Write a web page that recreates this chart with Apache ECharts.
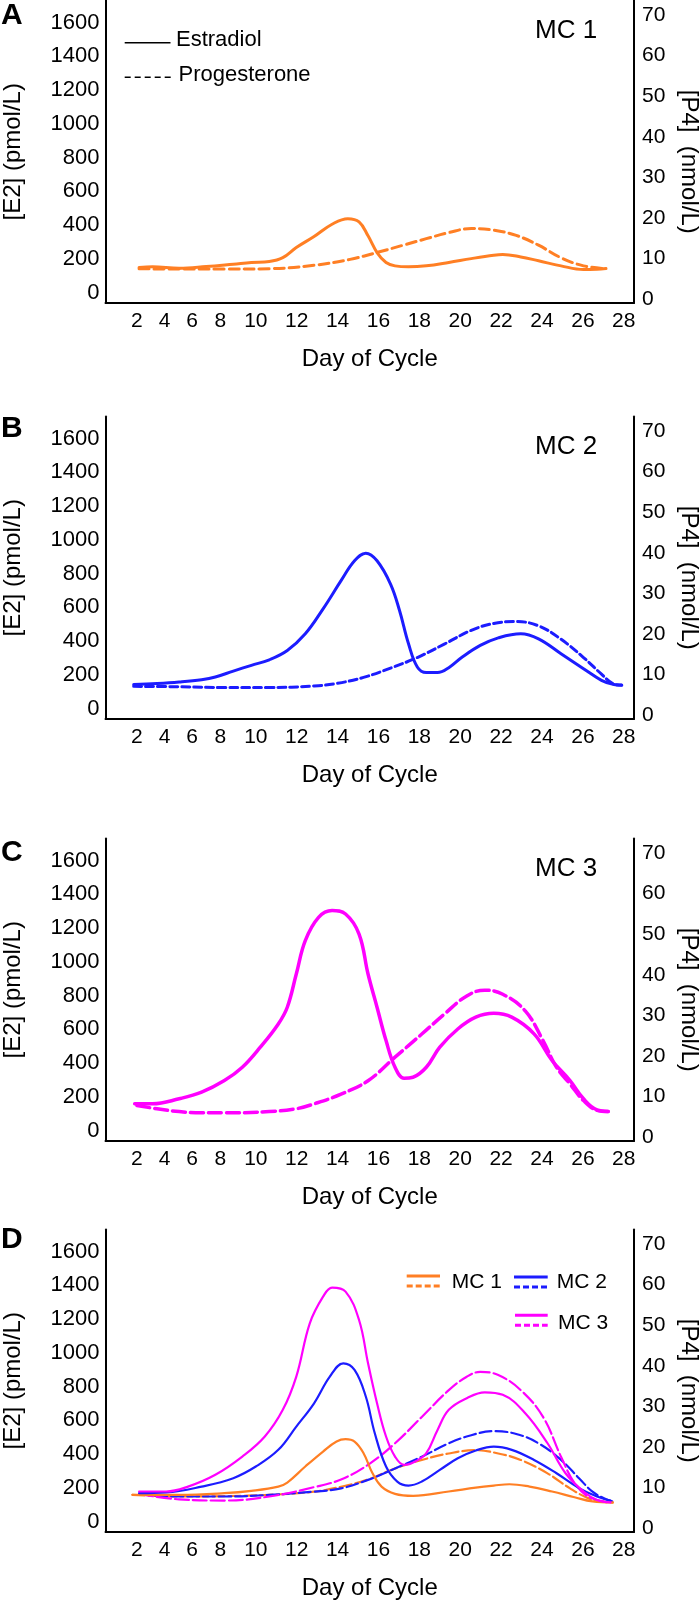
<!DOCTYPE html>
<html>
<head>
<meta charset="utf-8">
<script src="https://cdn.jsdelivr.net/npm/echarts@6/dist/echarts.min.js"></script>
<style>
  html, body { margin: 0; padding: 0; background: #fff; }
  #chart { width: 700px; height: 1605px; }
</style>
</head>
<body>
<div id="chart"></div>
<script>
// ---------------- tick labels ----------------
const DAY_TICKS = [2, 4, 6, 8, 10, 12, 14, 16, 18, 20, 22, 24, 26, 28];
const E2_TICKS = [0, 200, 400, 600, 800, 1000, 1200, 1400, 1600];
const P4_TICKS = [0, 10, 20, 30, 40, 50, 60, 70];
const PANEL_LETTERS = ['A', 'B', 'C', 'D'];
const PANEL_TITLES = ['MC 1', 'MC 2', 'MC 3'];

// ---------------- data: [day of cycle, value] ----------------
// Panel A (MC 1)
const mc1E2 = [[2.16,148],[3.13,152],[5.06,144],[7.0,154],[8.73,168],[9.75,178],[10.66,184],[11.32,207],[11.98,267],[12.85,332],[13.73,405],[14.5,438],[15.05,419],[15.49,336],[15.93,237],[16.37,178],[16.81,158],[17.47,152],[18.34,158],[19.44,178],[20.54,201],[21.64,221],[22.08,225],[22.96,211],[23.83,188],[24.93,158],[26.03,136],[26.69,138],[27.13,142]];
const mc1P4 = [[2.16,7.5],[5.06,7.4],[8.23,7.4],[10.66,7.5],[12.85,8.35],[14.61,9.8],[15.93,11.5],[17.25,13.35],[18.34,14.9],[19.44,16.4],[20.54,17.4],[21.64,17.0],[22.74,15.7],[23.83,13.3],[24.93,10.2],[26.03,8.2],[27.13,7.5]];
// Panel B (MC 2)
const mc2E2 = [[1.77,142],[3.45,148],[5.06,157],[6.68,171],[7.65,187],[8.73,222],[9.75,256],[10.66,289],[11.54,344],[12.42,443],[13.29,591],[14.17,758],[14.83,876],[15.38,921],[15.93,876],[16.59,738],[17.03,581],[17.47,384],[17.9,246],[18.34,213],[18.89,213],[19.44,242],[20.1,305],[20.98,374],[21.86,419],[22.96,443],[23.83,413],[24.93,325],[26.03,236],[26.91,167],[27.46,144],[27.9,138]];
const mc2P4 = [[1.77,7.1],[5.06,7.0],[8.23,6.8],[10.66,6.8],[12.85,7.2],[13.95,7.8],[15.27,9.3],[16.59,11.6],[17.9,14.2],[19.22,17.5],[20.54,20.9],[21.64,22.6],[22.74,23.05],[23.83,22.0],[24.93,18.7],[26.03,14.2],[26.91,10.1],[27.46,7.8],[27.9,7.4]];
// Panel C (MC 3)
const mc3E2 = [[1.84,158],[3.13,158],[5.06,188],[6.68,227],[8.23,296],[9.24,375],[10.22,494],[11.1,632],[11.54,731],[11.98,928],[12.42,1126],[13.07,1264],[13.73,1304],[14.39,1284],[15.05,1165],[15.49,928],[15.93,731],[16.37,533],[16.81,375],[17.25,310],[17.69,316],[18.34,375],[19.0,494],[19.88,602],[20.76,672],[21.64,695],[22.52,672],[23.61,573],[24.49,415],[25.37,296],[26.03,188],[26.69,122],[27.24,113]];
const mc3P4 = [[2.0,7.8],[3.45,7.0],[5.06,6.3],[6.68,6.0],[8.23,6.0],[10.66,6.3],[11.98,7.0],[12.85,8.2],[14.17,10.6],[15.49,13.9],[16.81,19.7],[18.12,25.4],[19.22,30.3],[20.32,34.8],[21.2,36.2],[22.08,35.2],[23.18,31.1],[24.05,23.8],[24.71,17.2],[25.37,13.1],[26.03,9.0],[26.69,6.6],[27.24,6.3]];
// Panel D (overlay)
const dMc1E2 = [[1.68,158],[5.06,158],[8.23,168],[9.75,182],[11.1,207],[11.54,231],[12.42,326],[13.29,415],[13.95,474],[14.39,488],[14.83,474],[15.27,405],[15.71,286],[16.15,207],[16.81,164],[17.69,152],[19.44,178],[20.76,201],[21.64,213],[22.41,221],[23.39,207],[24.49,178],[25.59,144],[26.47,119],[27.46,113]];
const dMc1P4 = [[1.68,8.2],[5.06,7.8],[8.23,7.9],[10.66,8.2],[12.85,9.0],[14.17,10.2],[15.49,12.0],[16.81,14.7],[18.12,16.8],[19.44,18.4],[20.76,19.2],[21.86,18.4],[22.96,16.8],[24.27,13.5],[25.37,9.8],[26.25,7.4],[26.91,6.6],[27.46,6.3]];
const dMc2E2 = [[2.16,168],[4.1,172],[6.68,207],[8.73,257],[10.0,326],[11.1,425],[11.98,563],[12.85,701],[13.62,859],[14.28,938],[14.83,899],[15.38,741],[15.82,523],[16.37,326],[16.92,237],[17.47,213],[18.12,237],[19.0,306],[19.88,375],[20.76,421],[21.64,444],[22.52,425],[23.61,365],[24.71,286],[25.81,198],[26.69,148],[27.35,124]];
const dMc2P4 = [[2.16,8.4],[5.06,7.8],[8.23,7.8],[10.66,8.2],[12.85,9.0],[14.17,9.8],[15.49,11.9],[16.81,14.7],[18.12,17.6],[19.44,20.9],[20.54,22.9],[21.64,23.9],[22.74,23.2],[23.83,20.9],[24.93,16.8],[25.81,12.3],[26.47,9.0],[27.13,7.1],[27.46,6.6]];
const dMc3E2 = [[2.16,178],[4.1,178],[5.71,207],[7.65,277],[9.24,385],[10.44,504],[11.32,662],[11.98,859],[12.64,1175],[13.29,1333],[13.73,1387],[14.39,1363],[15.05,1195],[15.49,938],[15.93,701],[16.37,504],[16.81,385],[17.25,336],[17.8,356],[18.34,405],[18.89,543],[19.44,662],[20.32,731],[21.2,766],[22.08,751],[23.18,642],[24.27,464],[25.15,286],[26.03,178],[26.69,128],[27.35,113]];
const dMc3P4 = [[2.16,8.4],[5.06,7.1],[8.23,6.8],[10.66,7.8],[12.85,10.1],[14.17,12.0],[15.49,15.6],[16.81,20.9],[18.12,27.4],[19.44,34.0],[20.32,37.3],[20.98,38.5],[21.86,37.7],[22.96,34.0],[24.05,27.4],[24.93,17.6],[25.59,11.1],[26.25,7.8],[27.02,6.6]];

// ---------------- x scale of the figure (uneven spacing of days 2..10) ----------------
const DAY_SCALE_KNOTS = [[2, 4.182], [4, 5.542], [6, 6.878], [8, 8.263], [10, 10], [28, 28]];
function dayToAxis(d) {
  const k = DAY_SCALE_KNOTS;
  let i = 0;
  while (i < k.length - 2 && d > k[i + 1][0]) i++;
  const [d0, a0] = k[i], [d1, a1] = k[i + 1];
  return a0 + (d - d0) * (a1 - a0) / (d1 - d0);
}
const X_MIN = 2.647, X_MAX = 28.5;
const E2_MIN = -62.2, E2_MAX = 1731.4;
const P4_MIN = -0.947, P4_MAX = 73.57;

const ORANGE = '#FF7F24', BLUE = '#1C1CFF', MAGENTA = '#FF00FF';
const FONT = 'Liberation Sans, Arial, Helvetica, sans-serif';

const GRID_TOPS = [0.5, 416.5, 838.5, 1229.5];
const GRID_H = 302.5;
const tickAxisVals = DAY_TICKS.map(dayToAxis);

const chart = echarts.init(document.getElementById('chart'), null, { renderer: 'canvas' });

const grids = GRID_TOPS.map(t => ({ left: 105.5, right: 66, top: t, height: GRID_H, outerBoundsMode: 'none', containLabel: false }));

const xAxes = GRID_TOPS.map((t, i) => ({
  type: 'value', gridIndex: i, min: X_MIN, max: X_MAX,
  axisLine: { show: true, onZero: false, lineStyle: { color: '#000', width: 2 } },
  axisTick: { show: false }, splitLine: { show: false },
  axisLabel: {
    customValues: tickAxisVals, margin: 8, color: '#000', fontSize: 21, fontFamily: FONT,
    showMinLabel: true, showMaxLabel: true,
    formatter: v => {
      const j = tickAxisVals.findIndex(t => Math.abs(t - v) < 1e-6);
      return j >= 0 ? String(DAY_TICKS[j]) : '';
    }
  },
  name: 'Day of Cycle', nameLocation: 'middle', nameGap: 44,
  nameTextStyle: { color: '#000', fontSize: 24, fontFamily: FONT }
}));

const yAxes = [];
GRID_TOPS.forEach((t, i) => {
  yAxes.push({
    type: 'value', gridIndex: i, position: 'left', min: E2_MIN, max: E2_MAX,
    axisLine: { show: true, onZero: false, lineStyle: { color: '#000', width: 2 } },
    axisTick: { show: false }, splitLine: { show: false },
    axisLabel: { customValues: E2_TICKS, margin: 6, color: '#000', fontSize: 22, fontFamily: FONT, formatter: v => String(v) },
    name: '[E2] (pmol/L)', nameLocation: 'middle', nameGap: 80, nameRotate: 90,
    nameTextStyle: { color: '#000', fontSize: 24, fontFamily: FONT }
  });
  yAxes.push({
    type: 'value', gridIndex: i, position: 'right', min: P4_MIN, max: P4_MAX,
    axisLine: { show: true, onZero: false, lineStyle: { color: '#000', width: 2 } },
    axisTick: { show: false }, splitLine: { show: false },
    axisLabel: { customValues: P4_TICKS, margin: 8, color: '#000', fontSize: 21, fontFamily: FONT, formatter: v => String(v) },
    name: '[P4]  (nmol/L)', nameLocation: 'middle', nameGap: 41, nameRotate: -90,
    nameTextStyle: { color: '#000', fontSize: 24, fontFamily: FONT, padding: [0, 0, 0, 20] }
  });
});

function line(data, panel, isP4, color, width, dash) {
  return {
    type: 'line', xAxisIndex: panel, yAxisIndex: panel * 2 + (isP4 ? 1 : 0),
    data: data.map(([d, v]) => [dayToAxis(d), v]),
    smooth: 0.4, showSymbol: false, symbol: 'none',
    lineStyle: { color, width, type: dash ? dash : 'solid', cap: 'round', join: 'round' },
    emphasis: { disabled: true }, silent: true
  };
}

const series = [
  line(mc1P4, 0, true, ORANGE, 3, [10, 5]),
  line(mc1E2, 0, false, ORANGE, 3),
  line(mc2P4, 1, true, BLUE, 3, [8, 4]),
  line(mc2E2, 1, false, BLUE, 3),
  line(mc3P4, 2, true, MAGENTA, 3.5, [13, 5]),
  line(mc3E2, 2, false, MAGENTA, 3.5),
  line(dMc1P4, 3, true, ORANGE, 2.2, [12, 4]),
  line(dMc2P4, 3, true, BLUE, 2.2, [12, 4]),
  line(dMc3P4, 3, true, MAGENTA, 2.2, [14, 4]),
  line(dMc1E2, 3, false, ORANGE, 2.2),
  line(dMc2E2, 3, false, BLUE, 2.2),
  line(dMc3E2, 3, false, MAGENTA, 2.2)
];

// ---------------- annotations ----------------
const LETTER_Y = [15.5, 429, 853, 1240];
const graphic = [];
PANEL_LETTERS.forEach((L, i) => graphic.push({
  type: 'text', left: 1, top: LETTER_Y[i] - 15, silent: true,
  style: { text: L, font: 'bold 30px ' + FONT, fill: '#000' }
}));
PANEL_TITLES.forEach((T, i) => graphic.push({
  type: 'text', x: 535, y: GRID_TOPS[i] + 30, silent: true,
  style: { text: T, font: '26px ' + FONT, fill: '#000', verticalAlign: 'middle', align: 'left' }
}));
// legend of panel A
graphic.push(
  { type: 'line', silent: true, shape: { x1: 124.7, y1: 42.7, x2: 170.5, y2: 42.7 }, style: { stroke: '#000', lineWidth: 1.5 } },
  { type: 'line', silent: true, shape: { x1: 124.7, y1: 77.3, x2: 172, y2: 77.3 }, style: { stroke: '#000', lineWidth: 1.5, lineDash: [6, 4] } },
  { type: 'text', x: 176, y: 39.5, silent: true, style: { text: 'Estradiol', font: '22px ' + FONT, fill: '#000', verticalAlign: 'middle' } },
  { type: 'text', x: 178.5, y: 75, silent: true, style: { text: 'Progesterone', font: '22px ' + FONT, fill: '#000', verticalAlign: 'middle' } }
);
// legend of panel D
const D_LEG = [
  { name: 'MC 1', color: ORANGE, x1: 406.7, x2: 440, y: 1276, tx: 451.7, ty: 1282 },
  { name: 'MC 2', color: BLUE, x1: 514, x2: 547.7, y: 1277, tx: 556.7, ty: 1282.5 },
  { name: 'MC 3', color: MAGENTA, x1: 515, x2: 547.7, y: 1315.3, tx: 558, ty: 1323 }
];
D_LEG.forEach(g => {
  graphic.push(
    { type: 'line', silent: true, shape: { x1: g.x1, y1: g.y, x2: g.x2, y2: g.y }, style: { stroke: g.color, lineWidth: 3 } },
    { type: 'line', silent: true, shape: { x1: g.x1, y1: g.y + 10, x2: g.x2, y2: g.y + 10 }, style: { stroke: g.color, lineWidth: 3, lineDash: [6, 3] } },
    { type: 'text', x: g.tx, y: g.ty, silent: true, style: { text: g.name, font: '21px ' + FONT, fill: '#000', verticalAlign: 'middle' } }
  );
});

chart.setOption({
  animation: false,
  backgroundColor: '#fff',
  grid: grids,
  xAxis: xAxes,
  yAxis: yAxes,
  series,
  graphic
});
</script>
</body>
</html>
